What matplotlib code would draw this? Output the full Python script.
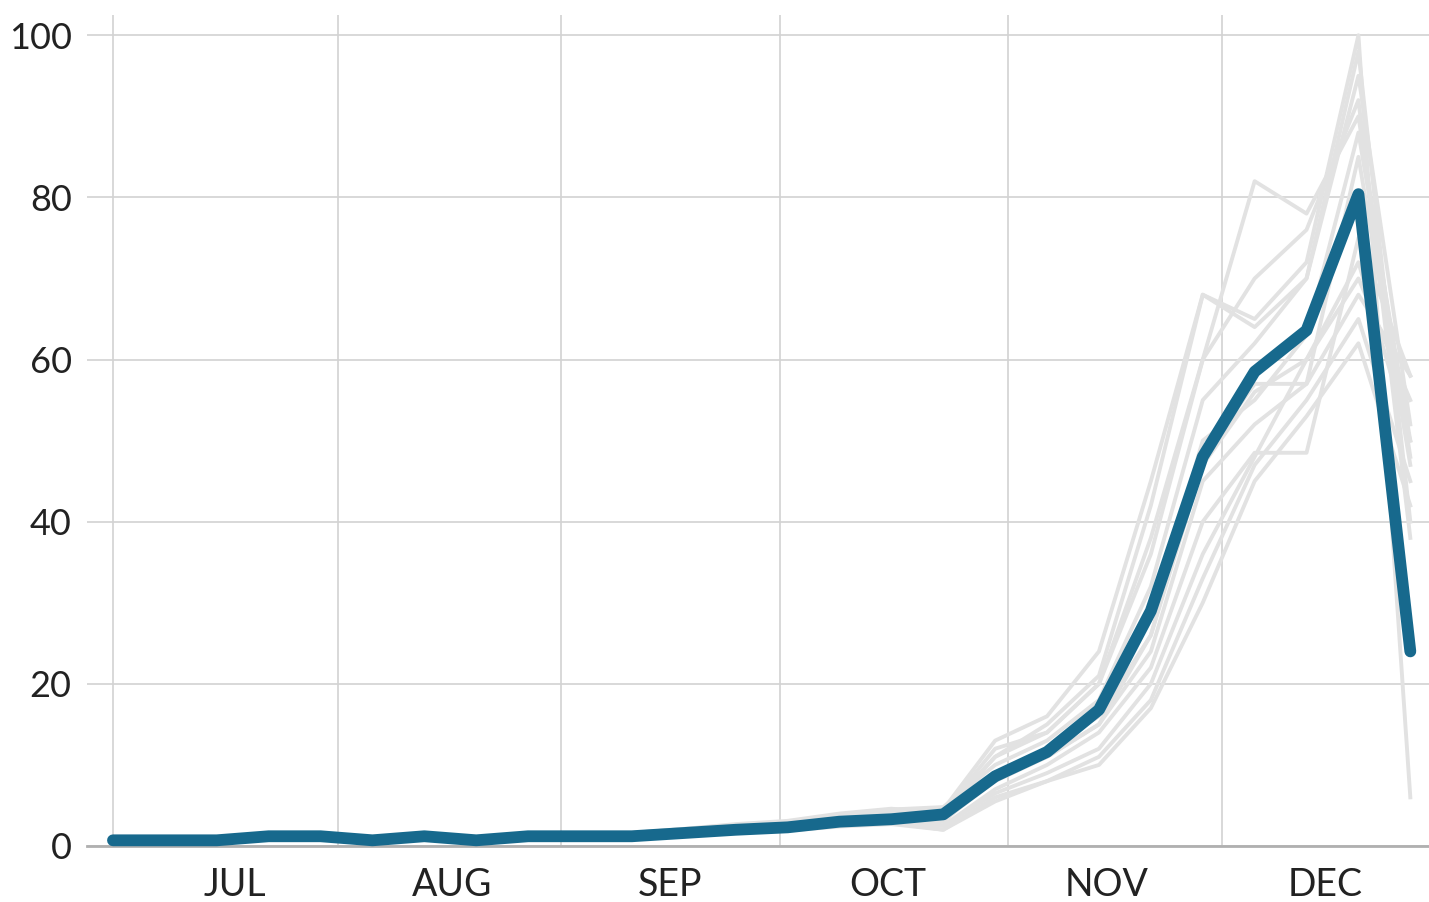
import numpy as np
import matplotlib
matplotlib.use("Agg")
from matplotlib import pyplot as plt

# weekly values, early July to late December
weeks = np.arange(26)

highlight = [0.7, 0.7, 0.7, 1.2, 1.2, 0.7, 1.2, 0.7, 1.2, 1.2, 1.2, 1.6, 2.0,
             2.3, 3.0, 3.3, 3.9, 8.6, 11.6, 16.8, 29.0, 48.0, 58.5, 63.6, 80.4, 24.0]

others = [
    [0.6, 0.8, 0.9, 1.3, 1.1, 0.9, 1.3, 0.9, 1.3, 1.4, 1.5, 2.0, 2.5,
     2.8, 3.8, 4.2, 4.5, 13.0, 16.0, 24.0, 45.0, 68.0, 65.0, 72.0, 100.0, 6.0],
    [0.5, 0.7, 0.8, 1.0, 1.2, 0.8, 1.1, 0.8, 1.1, 1.3, 1.4, 1.8, 2.3,
     2.6, 3.5, 4.0, 4.2, 12.0, 14.0, 20.0, 38.0, 60.0, 82.0, 78.0, 90.0, 48.0],
    [0.8, 0.9, 0.8, 1.4, 1.3, 1.0, 1.4, 1.0, 1.4, 1.5, 1.6, 2.1, 2.6,
     3.0, 3.9, 4.5, 4.8, 10.0, 13.0, 18.0, 32.0, 55.0, 62.0, 70.0, 95.0, 52.0],
    [0.6, 0.6, 0.7, 1.1, 1.0, 0.7, 1.0, 0.7, 1.0, 1.1, 1.2, 1.5, 1.9,
     2.2, 2.8, 3.1, 3.0, 9.0, 12.0, 17.0, 28.0, 50.0, 55.0, 63.0, 88.0, 50.0],
    [0.7, 0.8, 0.9, 1.2, 1.3, 0.9, 1.2, 0.8, 1.2, 1.3, 1.3, 1.7, 2.1,
     2.4, 3.2, 3.6, 3.2, 8.0, 11.0, 15.0, 24.0, 45.0, 52.0, 57.0, 85.0, 47.0],
    [0.5, 0.6, 0.6, 1.0, 1.0, 0.6, 1.0, 0.6, 0.9, 1.0, 1.1, 1.4, 1.7,
     2.0, 2.5, 2.8, 2.5, 7.0, 10.0, 14.0, 22.0, 40.0, 48.5, 48.5, 75.0, 58.0],
    [0.6, 0.7, 0.8, 1.1, 1.1, 0.8, 1.1, 0.8, 1.1, 1.2, 1.3, 1.6, 2.0,
     2.3, 3.0, 3.4, 2.5, 6.5, 9.0, 12.0, 20.0, 36.0, 48.0, 60.0, 70.0, 55.0],
    [0.4, 0.5, 0.6, 0.9, 0.9, 0.6, 0.9, 0.6, 0.9, 1.0, 1.0, 1.3, 1.6,
     1.9, 2.4, 2.7, 2.0, 6.0, 8.0, 11.0, 18.0, 33.0, 47.0, 55.0, 65.0, 45.0],
    [0.7, 0.8, 1.0, 1.4, 1.4, 1.0, 1.4, 1.0, 1.4, 1.5, 1.6, 2.1, 2.7,
     3.1, 4.0, 4.6, 4.0, 11.0, 15.0, 21.0, 42.0, 68.0, 64.0, 70.0, 98.0, 40.0],
    [0.5, 0.6, 0.7, 1.0, 1.0, 0.7, 1.0, 0.7, 1.0, 1.1, 1.1, 1.4, 1.8,
     2.1, 2.6, 2.9, 2.0, 5.5, 8.0, 10.0, 17.0, 30.0, 45.0, 53.0, 62.0, 42.0],
    [0.6, 0.7, 0.8, 1.2, 1.2, 0.8, 1.2, 0.8, 1.2, 1.2, 1.3, 1.7, 2.1,
     2.4, 3.1, 3.5, 3.5, 9.0, 12.0, 16.0, 26.0, 47.0, 56.0, 60.0, 72.0, 50.0],
    [0.8, 0.9, 0.9, 1.3, 1.3, 0.9, 1.3, 0.9, 1.3, 1.4, 1.5, 1.9, 2.4,
     2.7, 3.6, 4.1, 4.2, 11.0, 14.0, 20.0, 36.0, 60.0, 70.0, 76.0, 92.0, 38.0],
    [0.6, 0.7, 0.8, 1.1, 1.2, 0.8, 1.1, 0.8, 1.1, 1.2, 1.3, 1.6, 2.0,
     2.3, 2.9, 3.2, 3.0, 8.5, 11.0, 15.0, 26.0, 48.0, 57.0, 57.0, 68.0, 58.0],
]

month_labels = ["JUL", "AUG", "SEP", "OCT", "NOV", "DEC"]
# month boundaries and label centres, in weeks
month_edges = [0.0, 4.34, 8.63, 12.85, 17.24, 21.37]
month_mids = [2.35, 6.53, 10.73, 14.93, 19.15, 23.35]

plt.rcParams['font.family'] = ['Lato', 'DejaVu Sans']

fig = plt.figure(figsize=(14.29, 9.02), dpi=100)
ax = fig.add_axes([0.0609, 0.0621, 0.9391, 0.9213])

for s in others:
    ax.plot(weeks, s, color="#e2e2e2", lw=2.8, solid_joinstyle="round", zorder=2)

ax.plot(weeks, highlight, color="#17698d", lw=8.5, solid_capstyle="round",
        solid_joinstyle="round", zorder=3, clip_on=False)

ax.set_xlim(-0.5, 25.36)
ax.set_ylim(0, 102.5)

ax.set_yticks([0, 20, 40, 60, 80, 100])
ax.yaxis.grid(True, color="#d2d2d2", lw=1.2)
for xe in month_edges:
    ax.axvline(xe, ymin=0, ymax=1, color="#d2d2d2", lw=1.2, zorder=1)
ax.set_axisbelow(True)

ax.set_xticks(month_mids)
ax.set_xticklabels(month_labels)
ax.tick_params(axis="x", length=0, pad=15, labelsize=27, labelcolor="#222222")
ax.tick_params(axis="y", length=0, pad=11, labelsize=26, labelcolor="#222222")

for side in ["top", "right", "left"]:
    ax.spines[side].set_visible(False)
ax.spines["bottom"].set_color("#b0b0b0")
ax.spines["bottom"].set_linewidth(2)
ax.spines["bottom"].set_zorder(2.5)

fig.savefig("out.png", dpi=100)
